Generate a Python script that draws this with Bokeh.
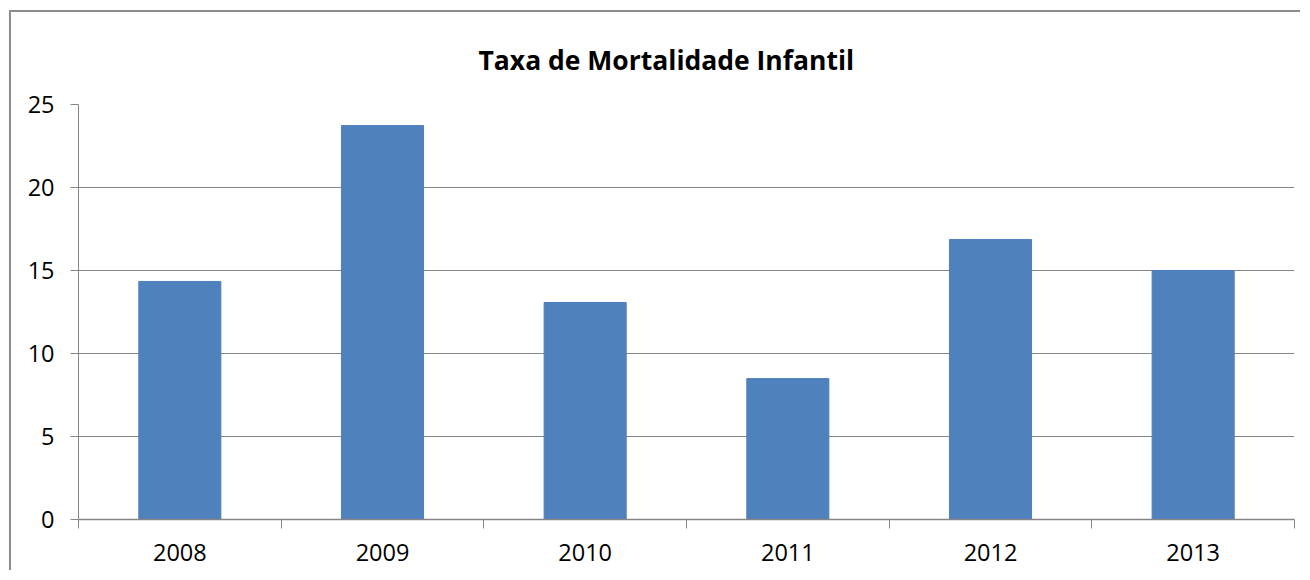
from bokeh.plotting import figure
from bokeh.models import FixedTicker, Range1d, ColumnDataSource
from bokeh.embed import file_html
from bokeh.resources import INLINE

years = ["2008", "2009", "2010", "2011", "2012", "2013"]
values = [14.34, 23.73, 13.07, 8.49, 16.87, 15.0]
y_ticks = [0, 5, 10, 15, 20, 25]

centers = [i + 0.5 for i in range(len(years))]
src = ColumnDataSource(dict(x=centers, top=values, year=years))

# canvas offset (margin) inside the page; border drawn as a shadow just outside it
OX, OY = 11, 12
W, H = 1302 - OX, 572 - OY
p = figure(width=W, height=H, output_backend="svg", toolbar_location=None,
           x_range=Range1d(0, len(years)), y_range=Range1d(0, 25),
           min_border_left=78 - OX, min_border_right=W - (1294 - OX),
           min_border_top=104 - OY, min_border_bottom=H - (519 - OY))
p.outline_line_color = None
p.background_fill_color = "white"
p.border_fill_color = "white"
p.styles = {"margin-left": f"{OX}px", "margin-top": f"{OY}px",
            "box-shadow": "-2px -2px 0px 0px #8C8C8C"}

p.vbar(x="x", top="top", width=0.405, bottom=0, source=src, color="#4F81BD")

grid_col = "#868686"
p.xgrid.visible = False
p.ygrid.ticker = FixedTicker(ticks=y_ticks)
p.ygrid.grid_line_color = grid_col
p.ygrid.grid_line_width = 1

p.yaxis.ticker = FixedTicker(ticks=y_ticks)
p.yaxis.axis_line_color = grid_col
p.yaxis.major_tick_line_color = grid_col
p.yaxis.major_tick_out = 8
p.yaxis.major_tick_in = 0
p.yaxis.minor_tick_line_color = None
p.yaxis.major_label_standoff = 16
p.yaxis.major_label_text_font = "Open Sans"
p.yaxis.major_label_text_font_size = "23.5px"
p.yaxis.major_label_text_color = "#000000"

p.xaxis.ticker = FixedTicker(ticks=centers, minor_ticks=list(range(len(years) + 1)))
p.xaxis.major_label_overrides = {c: y for c, y in zip(centers, years)}
p.xaxis.axis_line_color = grid_col
p.xaxis.axis_line_width = 1.5
p.xaxis.major_tick_line_color = None
p.xaxis.minor_tick_line_color = grid_col
p.xaxis.minor_tick_out = 9
p.xaxis.minor_tick_in = 0
p.xaxis.major_label_standoff = 15
p.xaxis.major_label_text_font = "Open Sans"
p.xaxis.major_label_text_font_size = "23.5px"
p.xaxis.major_label_text_color = "#000000"

p.title.text = "Taxa de Mortalidade Infantil"
p.title.align = "left"
p.title.offset = 400
p.title.standoff = 54
p.title.text_font = "Open Sans"
p.title.text_font_style = "bold"
p.title.text_font_size = "26.5px"
p.title.text_color = "#000000"

open("out.html", "w").write(file_html(p, INLINE))
